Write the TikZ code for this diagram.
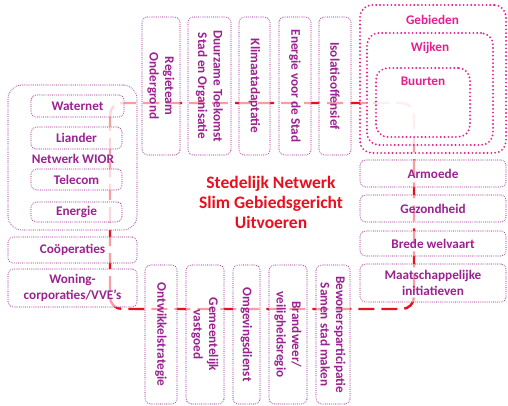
\documentclass[tikz,border=0pt]{standalone}
\usepackage{fontspec}
\setmainfont{Carlito}
\usepackage{tikz}

\definecolor{paars}{HTML}{9B2390}
\definecolor{roze}{HTML}{E5208E}
\definecolor{rood}{HTML}{E8101E}

\begin{document}
\begin{tikzpicture}[x=1pt,y=-1pt,
	block/.style ={rectangle, rounded corners=5pt, draw=paars!85, line width=1.1pt, line cap=round, dash pattern=on 0pt off 1.9pt, fill=white, fill opacity=0.6, text opacity=1, text=paars, align=center, inner sep=1pt, font=\bfseries\fontsize{13.2}{15.5}\selectfont},
	vblock/.style ={block, rotate=-90, minimum width=138pt},
	gebied/.style ={block, draw=roze, line width=2.1pt, dash pattern=on 0pt off 3.8pt, rounded corners=12pt},
	tekst/.style ={text=paars, font=\bfseries\fontsize{13.2}{15.5}\selectfont},
	redloop/.style ={draw=rood, line width=2.4pt, dash pattern=on 16pt off 7pt, rounded corners=12pt}]
		\useasboundingbox (0,0) rectangle (508,406);
		\coordinate (nw) at (110,103);
		\coordinate (se) at (414,309);
		\draw[redloop] (nw) rectangle (se);
		\node[vblock, minimum height=38pt] (regie) at (161,86) {Regieteam\\Ondergrond};
		\node[vblock, minimum height=43pt] (duurzaam) at (209.5,86) {Duurzame Toekomst\\Stad en Organisatie};
		\node[vblock, minimum height=31pt] (klimaat) at (254.5,86) {Klimaatadaptatie};
		\node[vblock, minimum height=32pt] (energiestad) at (295,86) {Energie voor de Stad};
		\node[vblock, minimum height=32pt] (isolatie) at (335,86) {Isolatieoffensief};
		\node[vblock, minimum height=32pt, minimum width=139pt] (ontwikkel) at (161,334.5) {Ontwikkelstrategie};
		\node[vblock, minimum height=38pt, minimum width=139pt] (vastgoed) at (205,334.5) {Gemeentelijk\\vastgoed};
		\node[vblock, minimum height=27pt, minimum width=139pt] (omgeving) at (246.5,334.5) {Omgevingsdienst};
		\node[vblock, minimum height=38pt, minimum width=139pt] (brandweer) at (288,334.5) {Brandweer/\\veiligheidsregio};
		\node[vblock, minimum height=34pt, minimum width=139pt] (bewoners) at (333,334.5) {Bewonersparticipatie\\Samen stad maken};
		\node[block, rounded corners=14pt, minimum width=129pt, minimum height=145pt] (wior) at (72.5,157.5) {};
		\node[block, minimum width=93pt, minimum height=22pt] (waternet) at (77.5,106) {Waternet};
		\node[block, minimum width=91pt, minimum height=22pt] (liander) at (76.5,138) {Liander};
		\node[tekst] (wiortekst) at (73,159) {Netwerk WIOR};
		\node[block, minimum width=91pt, minimum height=21pt] (telecom) at (76.5,179.5) {Telecom};
		\node[block, minimum width=91pt, minimum height=20pt] (energie) at (76.5,212) {Energie};
		\node[block, minimum width=129pt, minimum height=26pt] (coop) at (72.5,250) {Coöperaties};
		\node[block, minimum width=129pt, minimum height=38pt] (woning) at (72.5,288) {Woning-\\corporaties/VVE’s};
		\node[gebied, minimum width=146pt, minimum height=148pt] (gebieden) at (433,79) {};
		\node[gebied, minimum width=126pt, minimum height=112pt] (wijken) at (430,89) {};
		\node[gebied, minimum width=94pt, minimum height=69pt] (buurten) at (423,102.5) {};
		\node[tekst, text=roze] (gebiedentekst) at (432.5,20) {Gebieden};
		\node[tekst, text=roze] (wijkentekst) at (430,48) {Wijken};
		\node[tekst, text=roze] (buurtentekst) at (423,81) {Buurten};
		\node[block, minimum width=146pt, minimum height=27pt] (armoede) at (433,173.5) {Armoede};
		\node[block, minimum width=146pt, minimum height=27pt] (gezondheid) at (433,208.5) {Gezondheid};
		\node[block, minimum width=146pt, minimum height=25pt] (welvaart) at (433,243.5) {Brede welvaart};
		\node[block, minimum width=146pt, minimum height=38pt] (initiatief) at (433,283) {Maatschappelijke\\initiatieven};
		\node[text=rood, align=center, font=\bfseries\fontsize{17.5}{20}\selectfont] (midden) at (271,202) {Stedelijk Netwerk\\Slim Gebiedsgericht\\Uitvoeren};
	\end{tikzpicture}
\end{document}
